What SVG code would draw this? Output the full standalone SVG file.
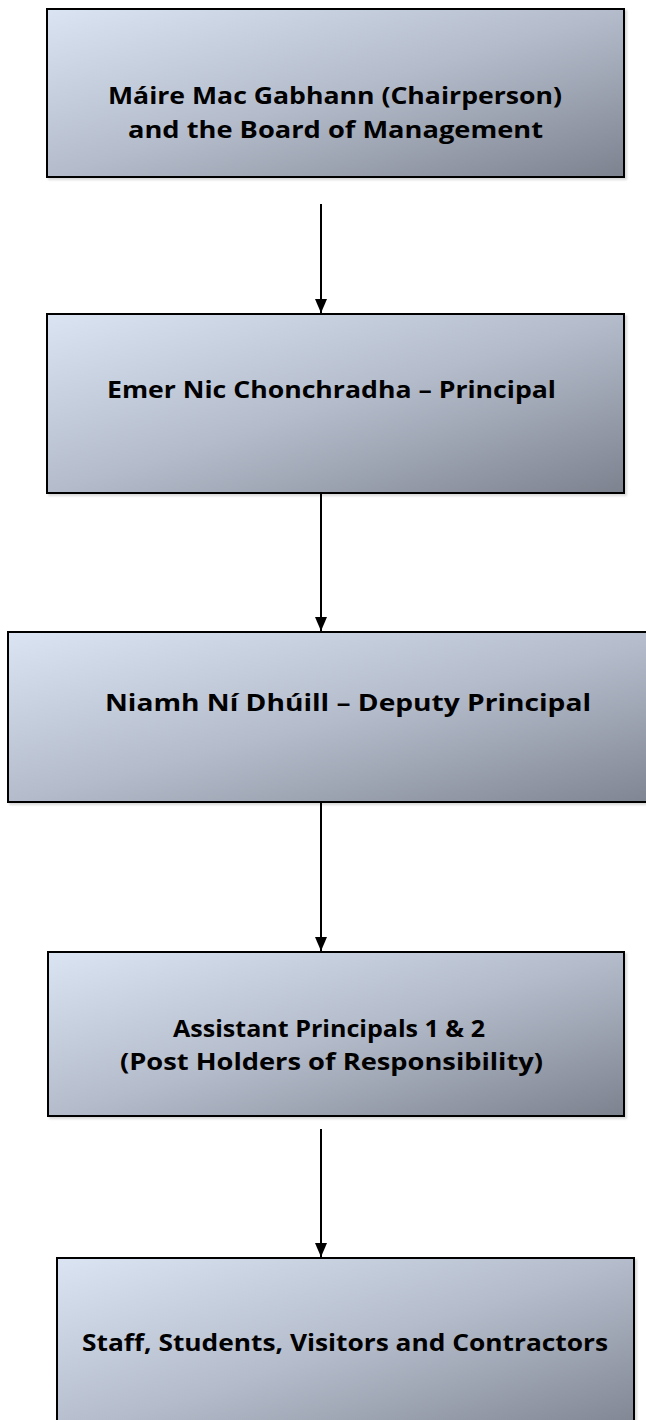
<svg xmlns="http://www.w3.org/2000/svg" width="646" height="1420" viewBox="0 0 646 1420">
<defs>
<linearGradient id="g" x1="0" y1="0" x2="1" y2="1">
<stop offset="0" stop-color="#dae4f3"/>
<stop offset="0.5" stop-color="#b4bccb"/>
<stop offset="1" stop-color="#7d828f"/>
</linearGradient>
<marker id="ah" markerWidth="14" markerHeight="12" refX="14" refY="6" orient="auto" markerUnits="userSpaceOnUse" viewBox="0 0 14 12">
<path d="M0,0 L14,6 L0,12 Z" fill="#000"/>
</marker>
<filter id="sh" x="-5%" y="-5%" width="110%" height="110%">
<feDropShadow dx="2" dy="2" stdDeviation="1" flood-color="#000" flood-opacity="0.15"/>
</filter>
</defs>
<style>
.box{fill:url(#g);stroke:#000;stroke-width:2;filter:url(#sh)}
.t{font-family:"Open Sans","Liberation Sans",sans-serif;font-weight:bold;font-size:24px;fill:#000}
.c{stroke:#000;stroke-width:2;fill:none;marker-end:url(#ah)}
</style>
<g id="connectors">
<line class="c" x1="321" y1="204" x2="321" y2="313"/>
<line class="c" x1="321" y1="494" x2="321" y2="631"/>
<line class="c" x1="321" y1="803" x2="321" y2="951"/>
<line class="c" x1="321" y1="1129" x2="321" y2="1257"/>
</g>
<g id="n1">
<rect class="box" x="47" y="9" width="577" height="168"/>
<text class="t" x="108" y="104" textLength="454" lengthAdjust="spacingAndGlyphs">Máire Mac Gabhann (Chairperson)</text>
<text class="t" x="128" y="138" textLength="415" lengthAdjust="spacingAndGlyphs">and the Board of Management</text>
</g>
<g id="n2">
<rect class="box" x="47" y="314" width="577" height="179"/>
<text class="t" x="107" y="398" textLength="449" lengthAdjust="spacingAndGlyphs">Emer Nic Chonchradha – Principal</text>
</g>
<g id="n3">
<rect class="box" x="8" y="632" width="680" height="170"/>
<text class="t" x="105" y="711" textLength="486" lengthAdjust="spacingAndGlyphs">Niamh Ní Dhúill – Deputy Principal</text>
</g>
<g id="n4">
<rect class="box" x="48" y="952" width="576" height="164"/>
<text class="t" x="173" y="1037" textLength="312" lengthAdjust="spacingAndGlyphs">Assistant Principals 1 &amp; 2</text>
<text class="t" x="120" y="1070" textLength="423" lengthAdjust="spacingAndGlyphs">(Post Holders of Responsibility)</text>
</g>
<g id="n5">
<rect class="box" x="57" y="1258" width="577" height="180"/>
<text class="t" x="82" y="1351" textLength="526" lengthAdjust="spacingAndGlyphs">Staff, Students, Visitors and Contractors</text>
</g>
</svg>
